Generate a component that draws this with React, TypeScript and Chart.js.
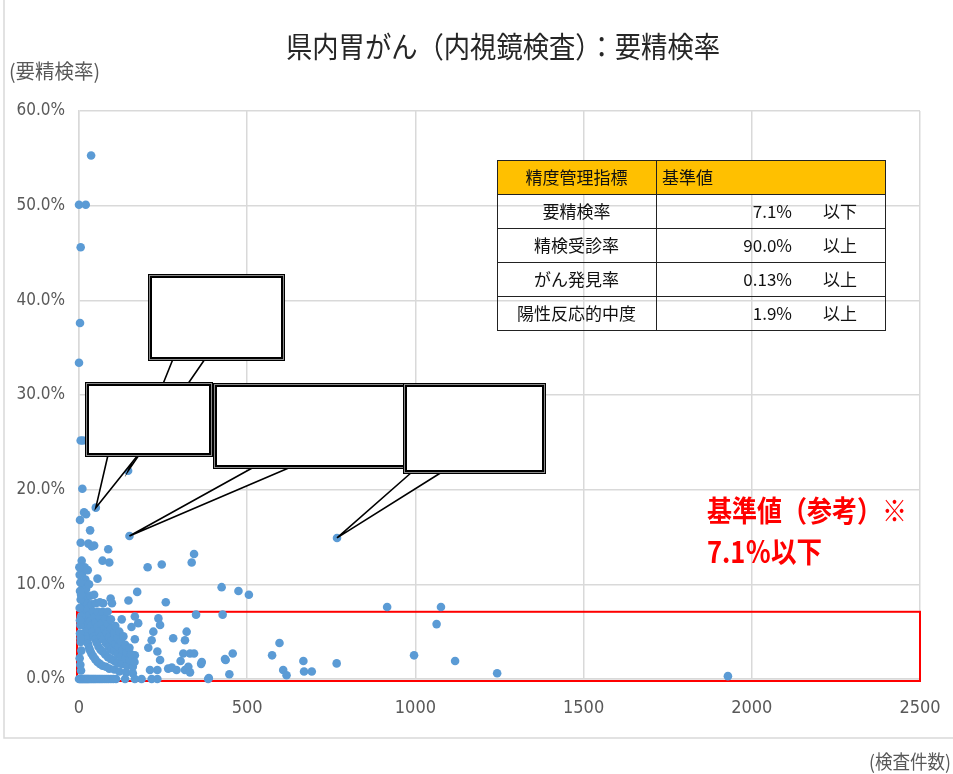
import React, { useEffect, useRef } from "react";
import { Chart, registerables } from "chart.js";
Chart.register(...registerables);

// ---- data (検査件数, 要精検率 %) ----
const upperCounts = [36, 0, 20, 5, 3, 0, 5, 12, 146, 10, 50, 15, 21, 3, 33, 150, 767, 5, 28, 38, 45, 87, 342, 335, 70, 90, 204, 246, 55, 424, 474, 505, 173, 72, 94, 98, 147, 258, 348, 427, 916, 1076];
const upperRates = [55.3, 50.1, 50.1, 45.6, 37.6, 33.4, 25.2, 25.2, 22.0, 20.1, 18.1, 17.6, 17.4, 16.8, 15.7, 15.1, 14.9, 14.4, 14.3, 14.0, 14.1, 13.7, 13.2, 12.3, 12.5, 12.3, 11.8, 12.1, 10.6, 9.7, 9.3, 8.9, 9.2, 8.0, 8.5, 8.0, 8.3, 8.1, 6.8, 6.8, 7.6, 7.6];

const lowerCounts = [1063, 996, 1118, 1243, 1929, 596, 574, 607, 617, 667, 669, 692, 766, 457, 436, 447, 386, 363, 330, 342, 320, 315, 280, 221, 216, 236, 241, 166, 176, 156, 127, 102, 166, 206, 166, 233, 241, 310, 302, 365, 434, 265, 276, 290, 315, 325, 330, 211, 233];
const lowerRates = [5.8, 2.5, 1.9, 0.6, 0.3, 3.8, 2.5, 0.95, 0.4, 1.9, 0.8, 0.8, 1.65, 2.7, 2.0, 0.5, 0.1, 1.6, 2.7, 2.7, 5.0, 4.1, 4.3, 5.0, 4.1, 6.4, 5.7, 6.6, 5.9, 5.5, 6.3, 4.8, 4.2, 3.3, 2.5, 2.9, 2.0, 2.7, 1.9, 1.8, 2.1, 1.1, 1.2, 0.95, 0.95, 1.3, 0.7, 0.95, 0.95];

const clusterCounts = [
  8, 9, 10, 11, 12, 13, 14, 16, 18, 20, 22, 24, 27, 30, 33, 37, 42, 48, 55, 62, 70, 80, 90, 105, 120, 140, 160,
  17, 19, 21, 23, 25, 27, 30, 33, 36, 40, 44, 48, 53, 58, 64, 70, 78, 86, 95, 105, 115, 128, 142, 160,
  26, 30, 34, 38, 42, 46, 50, 55, 60, 66, 72, 80, 88, 96, 105, 115, 125, 138, 150, 165,
  45, 50, 56, 62, 68, 75, 82, 90, 98, 108, 118, 130, 142, 155,
  62, 70, 78, 86, 95, 105, 115, 125, 138, 150,
  85, 95, 108, 120, 132,
];
const clusterRates = [
  12.5, 11.1, 10.0, 9.1, 8.3, 7.7, 7.1, 6.3, 5.6, 5.0, 4.5, 4.2, 3.7, 3.3, 3.0, 2.7, 2.4, 2.1, 1.8, 1.6, 1.4, 1.3, 1.1, 1.0, 0.8, 0.7, 0.6,
  11.8, 10.5, 9.5, 8.7, 8.0, 7.4, 6.7, 6.1, 5.6, 5.0, 4.5, 4.2, 3.8, 3.4, 3.1, 2.9, 2.6, 2.3, 2.1, 1.9, 1.7, 1.6, 1.4, 1.3,
  11.5, 10.0, 8.8, 7.9, 7.1, 6.5, 6.0, 5.5, 5.0, 4.5, 4.2, 3.8, 3.4, 3.1, 2.9, 2.6, 2.4, 2.2, 2.0, 1.8,
  8.9, 8.0, 7.1, 6.5, 5.9, 5.3, 4.9, 4.4, 4.1, 3.7, 3.4, 3.1, 2.8, 2.6,
  8.1, 7.1, 6.4, 5.8, 5.3, 4.8, 4.3, 4.0, 3.6, 3.3,
  7.1, 6.3, 5.6, 5.0, 4.5,
];

const axisCounts = [2, 4, 3, 5, 2, 6, 4, 3, 5, 7, 2, 4, 6, 3, 5, 1, 6];
const axisRates = [11.0, 10.2, 9.3, 8.4, 7.5, 6.6, 5.7, 4.8, 3.9, 3.0, 2.2, 1.5, 0.9, 6.2, 4.3, 11.8, 8.9];

const zeroRateCounts = [0, 3, 6, 9, 12, 15, 18, 21, 24, 27, 30, 34, 38, 42, 46, 50, 55, 60, 65, 70, 76, 82, 88, 95, 102, 110, 137, 166, 186, 216, 233, 384];

const xTickMax = 2500;
const xTickStep = 500;
const yTickMax = 60;
const yTickStep = 10;
const thresholdRate = 7.1;

const calloutTargetCounts = [146, 50, 150, 767];
const calloutTargetRates = [22.0, 18.1, 15.1, 14.9];

const chartTitle = "県内胃がん（内視鏡検査）：要精検率";
const yAxisTitle = "(要精検率)";
const xAxisTitle = "(検査件数)";
const noteLine1 = "基準値（参考）※";
const noteLine2 = "7.1％以下";

const tableHeader = ["精度管理指標", "基準値"];
const tableIndicators = ["要精検率", "精検受診率", "がん発見率", "陽性反応的中度"];
const tableValues = ["7.1%", "90.0%", "0.13%", "1.9%"];
const tableBounds = ["以下", "以上", "以上", "以上"];

const FONT_JP = "'Noto Sans CJK JP', 'Noto Sans', sans-serif";
const FONT_NUM = "'Liberation Sans Narrow', 'DejaVu Sans Condensed', 'Noto Sans', sans-serif";

function fitText(ctx: CanvasRenderingContext2D, text: string, x: number, y: number, width: number, font: string, color: string, align: CanvasTextAlign = "center") {
  ctx.save();
  ctx.font = font;
  ctx.fillStyle = color;
  ctx.textBaseline = "middle";
  ctx.textAlign = align;
  const w = ctx.measureText(text).width;
  ctx.translate(x, y);
  ctx.scale(width / w, 1);
  ctx.fillText(text, 0, 0);
  ctx.restore();
}

const decorPlugin = {
  id: "decor",
  beforeDraw(chart: any) {
    const ctx: CanvasRenderingContext2D = chart.ctx;
    ctx.save();
    ctx.fillStyle = "#ffffff";
    ctx.fillRect(0, 0, chart.width, chart.height);
    ctx.strokeStyle = "#d9d9d9";
    ctx.lineWidth = 1.5;
    ctx.strokeRect(4, -10, 980, 748);
    ctx.restore();
    fitText(ctx, chartTitle, 503, 47, 434, `29px ${FONT_JP}`, "#262626");
    fitText(ctx, yAxisTitle, 9, 71, 91, `20px ${FONT_JP}`, "#595959", "left");
    fitText(ctx, xAxisTitle, 869, 762, 82, `19px ${FONT_JP}`, "#595959", "left");
  },
  beforeDatasetsDraw(chart: any) {
    const ctx: CanvasRenderingContext2D = chart.ctx;
    const xs = chart.scales.x;
    const ys = chart.scales.y;
    const l = xs.getPixelForValue(0) - 2;
    const r = xs.getPixelForValue(xTickMax);
    const t = ys.getPixelForValue(thresholdRate);
    const b = ys.getPixelForValue(0) + 2;
    ctx.save();
    ctx.strokeStyle = "#ff0000";
    ctx.lineWidth = 2;
    ctx.strokeRect(l, t, r - l, b - t);
    ctx.restore();
  },
  afterDatasetsDraw(chart: any) {
    const ctx: CanvasRenderingContext2D = chart.ctx;
    const xs = chart.scales.x;
    const ys = chart.scales.y;

    // table
    const tx0 = 497, tx1 = 656, tx2 = 885, ty0 = 160, hh = 34, rh = 34;
    ctx.save();
    ctx.fillStyle = "#FFC000";
    ctx.fillRect(tx0, ty0, tx2 - tx0, hh);
    ctx.strokeStyle = "#222";
    ctx.lineWidth = 1;
    const yb = ty0 + hh + rh * tableIndicators.length;
    ctx.strokeRect(tx0 + 0.5, ty0 + 0.5, tx2 - tx0, yb - ty0);
    ctx.beginPath();
    ctx.moveTo(tx1 + 0.5, ty0);
    ctx.lineTo(tx1 + 0.5, yb);
    for (let i = 0; i < tableIndicators.length; i++) {
      const yy = ty0 + hh + rh * i + 0.5;
      ctx.moveTo(tx0, yy);
      ctx.lineTo(tx2, yy);
    }
    ctx.stroke();
    ctx.fillStyle = "#111";
    ctx.font = `17px ${FONT_JP}`;
    ctx.textBaseline = "middle";
    ctx.textAlign = "center";
    ctx.fillText(tableHeader[0], (tx0 + tx1) / 2, ty0 + hh / 2 + 1);
    ctx.textAlign = "left";
    ctx.fillText(tableHeader[1], tx1 + 6, ty0 + hh / 2 + 1);
    for (let i = 0; i < tableIndicators.length; i++) {
      const cy = ty0 + hh + rh * i + rh / 2 + 1;
      ctx.textAlign = "center";
      ctx.fillText(tableIndicators[i], (tx0 + tx1) / 2, cy);
      ctx.textAlign = "right";
      ctx.fillText(tableValues[i], 792, cy);
      ctx.textAlign = "left";
      ctx.fillText(tableBounds[i], 823, cy);
    }
    ctx.restore();

    // callouts
    const boxes = [
      { x: 150, y: 276, w: 133, h: 83, b1: 173, b2: 205 },
      { x: 87, y: 384, w: 124, h: 71, b1: 108, b2: 138 },
      { x: 215, y: 385, w: 190, h: 82, b1: 254, b2: 291 },
      { x: 405, y: 385, w: 139, h: 87, b1: 412, b2: 442 },
    ];
    boxes.forEach((bx, i) => {
      const px = xs.getPixelForValue(calloutTargetCounts[i]);
      const py = ys.getPixelForValue(calloutTargetRates[i]);
      const by = bx.y + bx.h;
      ctx.save();
      ctx.beginPath();
      ctx.moveTo(bx.b1, by);
      ctx.lineTo(px, py);
      ctx.lineTo(bx.b2, by);
      ctx.closePath();
      ctx.fillStyle = "#ffffff";
      ctx.fill();
      ctx.beginPath();
      ctx.moveTo(bx.b1, by);
      ctx.lineTo(px, py);
      ctx.lineTo(bx.b2, by);
      ctx.strokeStyle = "#000";
      ctx.lineWidth = 1.6;
      ctx.stroke();
      ctx.fillStyle = "#ffffff";
      ctx.fillRect(bx.x, bx.y, bx.w, bx.h);
      ctx.strokeStyle = "#000";
      ctx.lineWidth = 4;
      ctx.strokeRect(bx.x, bx.y, bx.w, bx.h);
      ctx.strokeStyle = "#8a8a8a";
      ctx.lineWidth = 1;
      ctx.strokeRect(bx.x - 0.5, bx.y - 0.5, bx.w + 1, bx.h + 1);
      ctx.restore();
    });

    // red note
    fitText(ctx, noteLine1, 707, 511, 200, `bold 29px ${FONT_JP}`, "#ff0000", "left");
    fitText(ctx, noteLine2, 707, 552, 115, `bold 29px ${FONT_JP}`, "#ff0000", "left");
  },
};

function toPoints(xs: number[], ys: number[]) {
  return xs.map((x, i) => ({ x, y: ys[i] }));
}

export default function App() {
  const ref = useRef<HTMLCanvasElement>(null);
  useEffect(() => {
    const canvas = ref.current!;
    const data = [
      ...toPoints(upperCounts, upperRates),
      ...toPoints(lowerCounts, lowerRates),
      ...toPoints(clusterCounts, clusterRates),
      ...toPoints(axisCounts, axisRates),
      ...zeroRateCounts.map((x) => ({ x, y: 0 })),
    ];
    const chart = new Chart(canvas, {
      type: "scatter",
      data: {
        datasets: [
          {
            label: "要精検率",
            data,
            backgroundColor: "#5B9BD5",
            borderWidth: 0,
            pointRadius: 4.3,
            pointHoverRadius: 4.3,
            clip: false as any,
          },
        ],
      },
      options: {
        responsive: false,
        maintainAspectRatio: false,
        devicePixelRatio: 1,
        animation: false,
        layout: { padding: { left: 0, top: 111, right: 33, bottom: 0 } },
        plugins: { legend: { display: false }, tooltip: { enabled: false }, title: { display: false } },
        scales: {
          x: {
            type: "linear",
            min: 0,
            max: xTickMax,
            afterFit: (s: any) => { s.height = 95; s.paddingLeft = 0; s.paddingRight = 0; },
            ticks: {
              stepSize: xTickStep,
              color: "#595959",
              padding: 19,
              font: { family: FONT_NUM, size: 18 },
              callback: (v: any) => String(v),
            },
            grid: { color: "#d9d9d9", lineWidth: 1.5, drawTicks: false },
            border: { display: true, color: "#d9d9d9", width: 1.5 },
          },
          y: {
            type: "linear",
            min: 0,
            max: yTickMax,
            afterFit: (s: any) => { s.width = 79; s.paddingTop = 0; s.paddingBottom = 0; },
            ticks: {
              stepSize: yTickStep,
              color: "#595959",
              padding: 14,
              font: { family: FONT_NUM, size: 17 },
              callback: (v: any) => `${Number(v).toFixed(1)}%`,
            },
            grid: { color: "#d9d9d9", lineWidth: 1.5, drawTicks: false },
            border: { display: true, color: "#d9d9d9", width: 1.5 },
          },
        },
      },
      plugins: [decorPlugin],
    });
    return () => chart.destroy();
  }, []);
  return (
    <div style={{ position: "absolute", left: 0, top: 0, width: 953, height: 774, background: "#fff" }}>
      <canvas ref={ref} width={953} height={774} style={{ display: "block", width: 953, height: 774 }} />
    </div>
  );
}
